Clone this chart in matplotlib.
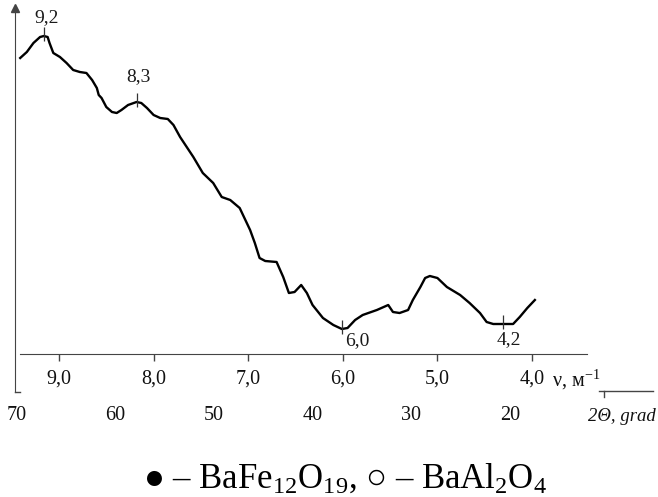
import numpy as np
import matplotlib
matplotlib.use('Agg')
import matplotlib.pyplot as plt

plt.rcParams['font.family'] = ['Liberation Serif', 'DejaVu Serif']
plt.rcParams['mathtext.fontset'] = 'custom'
plt.rcParams['mathtext.rm'] = 'Liberation Serif'
plt.rcParams['mathtext.it'] = 'Liberation Serif:italic'

# спектр: волновое число (м^-1) и интенсивность (усл. ед.)
nu = [9.41, 9.34, 9.27, 9.20, 9.16, 9.12, 9.10, 9.06, 8.99, 8.92, 8.85, 8.78,
      8.71, 8.65, 8.60, 8.58, 8.55, 8.50, 8.44, 8.39, 8.34, 8.27, 8.18, 8.13,
      8.07, 8.00, 7.93, 7.85, 7.79, 7.72, 7.65, 7.58, 7.48, 7.37, 7.28, 7.19,
      7.09, 6.98, 6.93, 6.88, 6.82, 6.70, 6.63, 6.57, 6.51, 6.44, 6.38, 6.32,
      6.21, 6.10, 6.01, 5.95, 5.87, 5.79, 5.64, 5.52, 5.47, 5.40, 5.31, 5.26,
      5.18, 5.13, 5.08, 5.00, 4.90, 4.76, 4.66, 4.55, 4.48, 4.41, 4.20, 4.13,
      4.05, 3.97]
intensity = [29.6, 30.2, 31.1, 31.7, 31.8, 31.7, 31.1, 30.1, 29.7, 29.1, 28.4, 28.2,
             28.1, 27.4, 26.6, 25.9, 25.6, 24.7, 24.2, 24.1, 24.4, 24.9, 25.2, 25.1,
             24.6, 23.9, 23.6, 23.5, 22.9, 21.7, 20.7, 19.7, 18.1, 17.1, 15.7, 15.4,
             14.6, 12.4, 11.1, 9.6, 9.3, 9.2, 7.7, 6.1, 6.2, 6.9, 6.1, 4.9,
             3.6, 2.9, 2.5, 2.6, 3.4, 3.9, 4.4, 4.9, 4.2, 4.1, 4.4, 5.4,
             6.7, 7.6, 7.8, 7.6, 6.7, 5.9, 5.1, 4.1, 3.2, 3.0, 3.0, 3.7,
             4.6, 5.4]

# отмеченные пики
peak_nu = [9.16, 8.18, 6.01, 4.31]
peak_labels = ['9,2', '8,3', '6,0', '4,2']

nu_ticks = [9, 8, 7, 6, 5, 4]
nu_ticklabels = ['9,0', '8,0', '7,0', '6,0', '5,0', '4,0']
theta_ticks = [70, 60, 50, 40, 30, 20]

# соответствие шкал: nu -> 2theta
nu_ref = [9.444, 4.233]
theta_ref = [70, 20]


def nu_to_theta(x):
    k = (theta_ref[1] - theta_ref[0]) / (nu_ref[1] - nu_ref[0])
    return theta_ref[0] + (np.asarray(x) - nu_ref[0]) * k


def theta_to_nu(t):
    k = (nu_ref[1] - nu_ref[0]) / (theta_ref[1] - theta_ref[0])
    return nu_ref[0] + (np.asarray(t) - theta_ref[0]) * k


W, H = 658, 497
fig = plt.figure(figsize=(W / 100, H / 100), dpi=100)
ax = fig.add_axes([15 / W, 1 - 392 / H, 572 / W, 384 / H])

axis_c = '#444444'
ax.plot(nu, intensity, color='black', lw=1.7, solid_joinstyle='round')
ax.set_xlim(9.465, 3.419)
ax.set_ylim(-3.8, 34.6)

# оси со стрелками
for s in ['top', 'right']:
    ax.spines[s].set_visible(False)
ax.spines['left'].set_color(axis_c)
ax.spines['bottom'].set_color(axis_c)
ax.spines['bottom'].set_position(('data', 0))
ax.spines['bottom'].set_bounds(9.41, 3.419)
ax.plot(0, 1, marker='^', color=axis_c, ms=6, transform=ax.transAxes, clip_on=False)
ax.plot(1, 0, marker='>', color=axis_c, ms=7, transform=ax.get_xaxis_transform(),
        clip_on=False)
ax.set_yticks([])
ax.set_xticks(nu_ticks)
ax.set_xticklabels(nu_ticklabels)
ax.tick_params(axis='x', direction='out', length=5, width=1, color=axis_c,
               pad=6, labelsize=14.5, labelcolor='#111111')

# вторая шкала 2theta
sec = ax.secondary_xaxis('bottom', functions=(nu_to_theta, theta_to_nu))
sec.spines['bottom'].set_visible(False)
sec.set_xticks(theta_ticks)
sec.tick_params(length=0, pad=10, labelsize=14.5, labelcolor='#111111')

# метки пиков
offsets = [(2, 13.5), (1.5, 18.5), (11, -8), (4.5, -11)]
peak_I = np.interp(peak_nu, nu[::-1], intensity[::-1])
ax.vlines(peak_nu, peak_I - 0.45, peak_I + 0.9, color='#333333', lw=0.9)
for x, y, lab, off in zip(peak_nu, peak_I, peak_labels, offsets):
    ax.annotate(lab, (x, y), xytext=off, textcoords='offset points',
                ha='center', va='center', fontsize=14, color='#1a1a1a')

# подписи осей
fig.text(552 / W, 1 - 386 / H, r'ν, м$^{-1}$', fontsize=14.5, va='baseline',
         color='#111111')
fig.text(588 / W, 1 - 421 / H, '2Θ, grad', fontsize=13.5, style='italic',
         va='baseline', color='#111111')
fig.add_artist(plt.Line2D([599 / W, 653 / W], [1 - 391 / H, 1 - 391 / H],
                          color=axis_c, lw=1))
fig.add_artist(plt.Line2D([604 / W, 604 / W], [1 - 391 / H, 1 - 397 / H],
                          color=axis_c, lw=1))
fig.add_artist(plt.Line2D([15 / W, 20 / W], [1 - 392 / H, 1 - 392 / H],
                          color=axis_c, lw=1))

# легенда фаз
fig.text(345 / W, 1 - 488 / H,
         r'● – BaFe$_{12}$O$_{19}$, ○ – BaAl$_{2}$O$_{4}$',
         fontsize=25, ha='center', va='baseline', color='black')

fig.savefig('out.png', dpi=100)
